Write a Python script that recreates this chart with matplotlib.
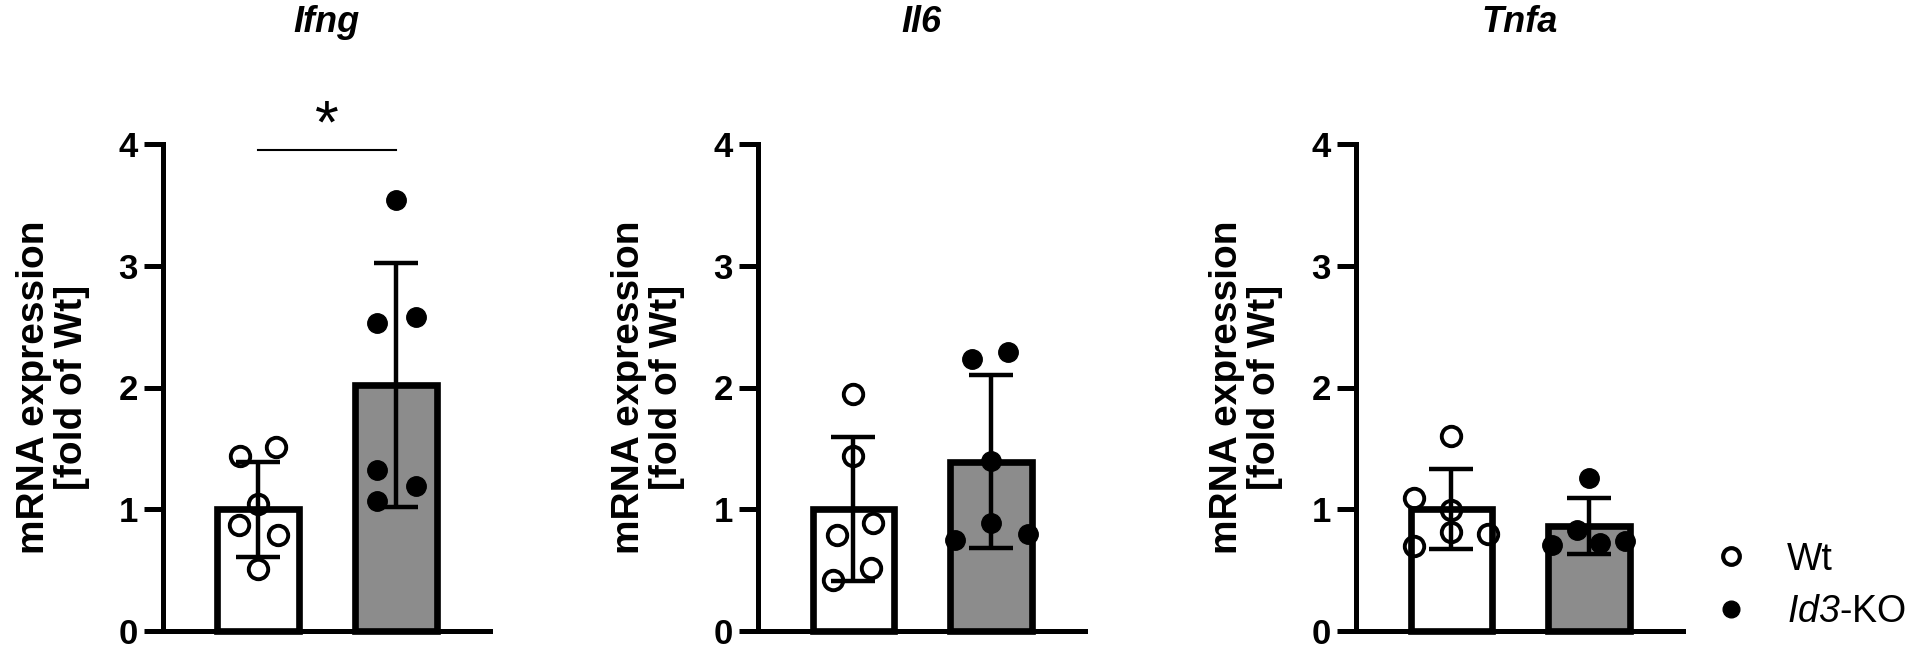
import matplotlib
matplotlib.use('Agg')
import matplotlib.pyplot as plt
from matplotlib.lines import Line2D
import numpy as np

plt.rcParams['font.family'] = ['Liberation Sans', 'DejaVu Sans']
plt.rcParams['mathtext.fontset'] = 'custom'
plt.rcParams['mathtext.it'] = 'Liberation Sans:italic'
plt.rcParams['mathtext.rm'] = 'Liberation Sans:italic'

genes = ['Ifng', 'Il6', 'Tnfa']
groups = ['Wt', '$\\mathit{Id3}$-KO']

# mean and SD per gene (Wt, KO)
means_wt = [1.00, 1.00, 1.00]
sd_wt = [0.39, 0.59, 0.33]
means_ko = [2.02, 1.39, 0.86]
sd_ko = [1.00, 0.71, 0.23]

# individual animals
ifng_wt = [1.44, 1.51, 1.04, 0.87, 0.79, 0.51]
ifng_ko = [3.54, 2.53, 2.58, 1.32, 1.19, 1.07]
il6_wt = [1.95, 1.44, 0.89, 0.79, 0.52, 0.42]
il6_ko = [2.23, 2.29, 1.40, 0.89, 0.75, 0.80]
tnfa_wt = [1.60, 1.09, 0.99, 0.81, 0.80, 0.70]
tnfa_ko = [1.26, 0.83, 0.71, 0.72, 0.74]

# horizontal scatter of the dots (layout only)
jit_ifng_wt = [-0.13, 0.13, 0, -0.14, 0.14, 0]
jit_ifng_ko = [0, -0.14, 0.145, -0.14, 0.145, -0.14]
jit_il6_wt = [0, 0, 0.14, -0.12, 0.13, -0.15]
jit_il6_ko = [-0.14, 0.12, 0, 0, -0.26, 0.27]
jit_tnfa_wt = [0, -0.27, 0, 0, 0.27, -0.27]
jit_tnfa_ko = [0, -0.09, -0.27, 0.08, 0.26]

pts_wt = [ifng_wt, il6_wt, tnfa_wt]
pts_ko = [ifng_ko, il6_ko, tnfa_ko]
jit_wt = [jit_ifng_wt, jit_il6_wt, jit_tnfa_wt]
jit_ko = [jit_ifng_ko, jit_il6_ko, jit_tnfa_ko]

W, H = 1920, 649
fig = plt.figure(figsize=(19.2, 6.49), dpi=100)

lefts = [163, 758, 1356]
ax_w = 327
y0_px, y4_px = 631, 144
grey = '#8c8c8c'

for i, g in enumerate(genes):
    ax = fig.add_axes([lefts[i] / W, (H - y0_px) / H, ax_w / W, (y0_px - y4_px) / H])
    ax.bar([0, 1], [means_wt[i], means_ko[i]], width=0.59, color=['white', grey],
           edgecolor='black', linewidth=4.8, zorder=2, clip_on=False)
    ax.errorbar([0, 1], [means_wt[i], means_ko[i]], yerr=[sd_wt[i], sd_ko[i]], fmt='none',
                ecolor='black', elinewidth=3.2, capsize=16, capthick=3.2, zorder=4, clip_on=False)
    ax.plot(np.array(jit_wt[i]), pts_wt[i], 'o', ms=14, mfc='none', mec='black', mew=2.8,
            zorder=3, clip_on=False)
    ax.plot(1 + np.array(jit_ko[i]), pts_ko[i], 'o', ms=14, mfc='black', mec='black',
            zorder=3, clip_on=False)

    ax.set_xlim(-0.69, 1.68)
    ax.set_ylim(0, 4)
    ax.set_yticks([0, 1, 2, 3, 4])
    ax.set_xticks([])
    for s in ['top', 'right']:
        ax.spines[s].set_visible(False)
    for s in ['left', 'bottom']:
        ax.spines[s].set_linewidth(3.6)
    ax.tick_params(axis='y', length=14, width=3.6, pad=4, labelsize=25)
    for lab in ax.get_yticklabels():
        lab.set_fontweight('bold')

    ax.text(0.5, 1.25, g, transform=ax.transAxes, ha='center', va='center',
            fontsize=26, fontweight='bold', fontstyle='italic')
    ax.text(-0.336, 0.5, 'mRNA expression\n[fold of Wt]', transform=ax.transAxes,
            rotation=90, ha='center', va='center', fontsize=28, fontweight='bold',
            linespacing=1.05)

    if i == 0:
        ax.plot([0, 1], [3.95, 3.95], color='black', lw=1.5, clip_on=False)
        ax.text(0.5, 4.14, '*', ha='center', va='center', fontsize=44, clip_on=False)

handles = [Line2D([], [], marker='o', ls='none', ms=12, mfc='none', mec='black', mew=3),
           Line2D([], [], marker='o', ls='none', ms=12, mfc='black', mec='black')]
fig.legend(handles, groups, loc='center left', bbox_to_anchor=(1712 / W, (H - 586) / H),
           frameon=False, fontsize=27, handlelength=1.0, handletextpad=1.0,
           labelspacing=0.45, borderpad=0, borderaxespad=0)

fig.savefig('out.png', dpi=100)
